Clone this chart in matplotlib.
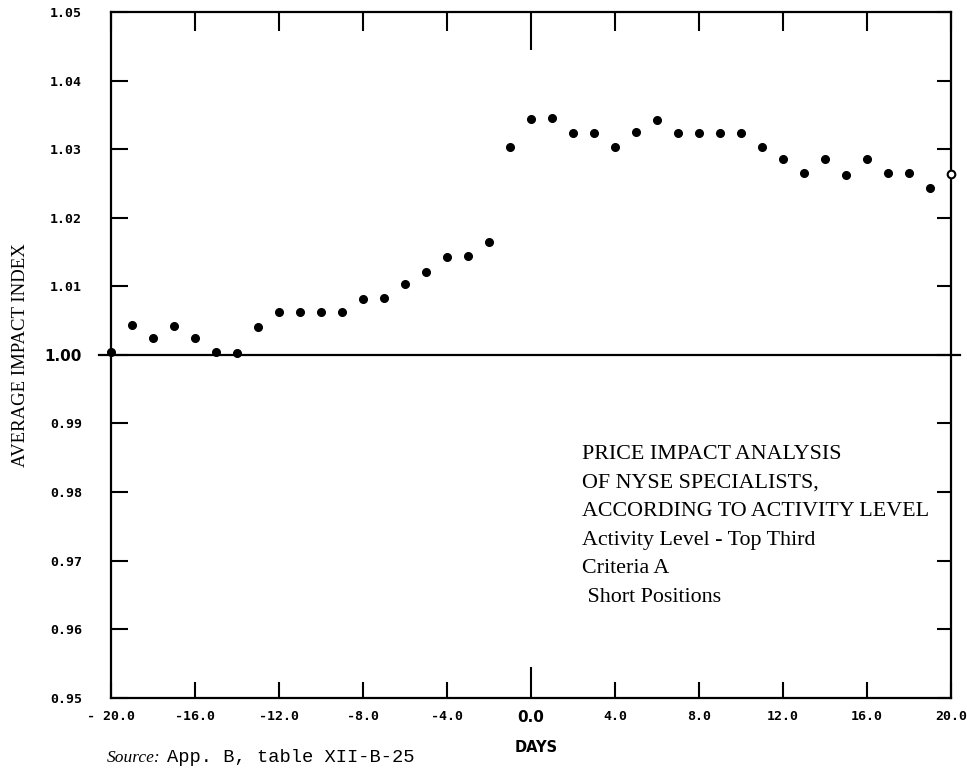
import matplotlib
matplotlib.use("Agg")
import matplotlib.pyplot as plt

# dati (un punto per giorno)
days = list(range(-20, 21))
impact = [1.0004, 1.0043, 1.0024, 1.0042, 1.0025, 1.0004, 1.0003, 1.0041,
          1.0062, 1.0062, 1.0062, 1.0063, 1.0082, 1.0083, 1.0103, 1.0121,
          1.0143, 1.0144, 1.0164, 1.0303, 1.0344, 1.0345, 1.0324, 1.0323,
          1.0303, 1.0325, 1.0343, 1.0324, 1.0323, 1.0323, 1.0323, 1.0303,
          1.0286, 1.0265, 1.0286, 1.0263, 1.0285, 1.0265, 1.0265, 1.0244,
          1.0264]

x_ticks = [-20, -16, -12, -8, -4, 0, 4, 8, 12, 16, 20]
x_labels = ["- 20.0", "-16.0", "-12.0", "-8.0", "-4.0", "0.0",
            "4.0", "8.0", "12.0", "16.0", "20.0"]
y_ticks = [0.95, 0.96, 0.97, 0.98, 0.99, 1.00, 1.01, 1.02, 1.03, 1.04, 1.05]
y_labels = ["0.95", "0.96", "0.97", "0.98", "0.99", "1.00",
            "1.01", "1.02", "1.03", "1.04", "1.05"]

note_lines = ["PRICE IMPACT ANALYSIS",
              "OF NYSE SPECIALISTS,",
              "ACCORDING TO ACTIVITY LEVEL",
              "Activity Level - Top Third",
              "Criteria A",
              " Short Positions"]

fig = plt.figure(figsize=(9.67, 7.68), dpi=100)
ax = fig.add_axes([111/967, 1 - 697.7/768, 840/967, (697.7 - 12)/768])

ax.plot(days[:-1], impact[:-1], "o", color="black", markersize=5.5, clip_on=False, zorder=5)
ax.plot(days[-1:], impact[-1:], "o", color="black", markerfacecolor="white",
        markeredgewidth=1.5, markersize=5.5, clip_on=False, zorder=5)

ax.axhline(1.0, xmin=-0.014, xmax=1.011, color="black", lw=1.6, clip_on=False)

ax.set_xlim(-20, 20)
ax.set_ylim(0.95, 1.05)
for s in ax.spines.values():
    s.set_linewidth(1.6)

ax.set_xticks(x_ticks)
ax.set_xticklabels(x_labels, family="DejaVu Sans Mono", weight="bold", fontsize=9.5)
ax.set_yticks(y_ticks)
ax.set_yticklabels(y_labels, family="DejaVu Sans Mono", weight="bold", fontsize=9.5)
ax.tick_params(axis="both", direction="in", width=1.5, top=True, right=True)
ax.tick_params(axis="x", pad=9)
ax.tick_params(axis="y", pad=21)

# etichette "0.0" e "1.00" più grandi come nell'originale
for lab in ax.get_xticklabels():
    if lab.get_text() == "0.0":
        lab.set_fontsize(11)
        lab.set_family("DejaVu Sans")
for lab in ax.get_yticklabels():
    if lab.get_text() == "1.00":
        lab.set_fontsize(11)
        lab.set_family("DejaVu Sans")

# lunghezze dei tick
for v, t in zip(x_ticks, ax.xaxis.get_major_ticks()):
    if v == 0:
        t.tick1line.set_markersize(22)
        t.tick2line.set_markersize(27)
    else:
        t.tick1line.set_markersize(11.5)
        t.tick2line.set_markersize(14)
for v, t in zip(y_ticks, ax.yaxis.get_major_ticks()):
    t.tick1line.set_markersize(12)
    t.tick2line.set_markersize(10)

fig.text(21/967, 1 - 355/768, "AVERAGE IMPACT INDEX", rotation=90,
         family="Liberation Serif", fontsize=13.5, ha="center", va="center")
fig.text(536/967, 1 - 747/768, "DAYS", family="DejaVu Sans", weight="bold",
         fontsize=10.5, ha="center", va="center")

y0 = 459
for i, line in enumerate(note_lines):
    fig.text(582/967, 1 - (y0 + 28.5 * i)/768, line, family="Liberation Serif",
             fontsize=15.8, ha="left", va="baseline")

fig.text(107/967, 1 - 762/768, "Source:", family="Liberation Serif", style="italic",
         fontsize=12.5, ha="left", va="baseline")
fig.text(167/967, 1 - 762/768, "App. B, table XII-B-25", family="Liberation Mono",
         fontsize=13.5, ha="left", va="baseline")

fig.savefig("out.png", dpi=100)
